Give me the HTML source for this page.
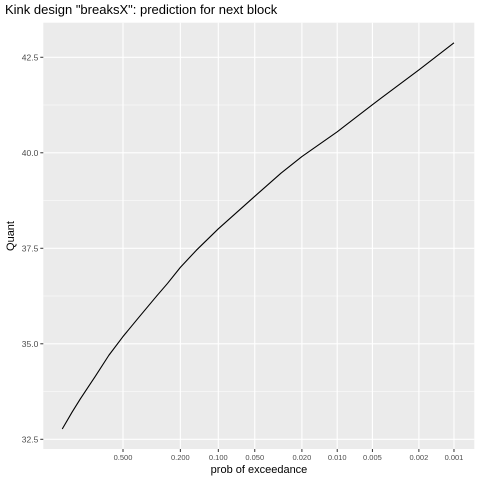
<!DOCTYPE html>
<html><head><meta charset="utf-8"><style>
body{margin:0;background:#fff;font-family:"Liberation Sans",sans-serif}
</style></head><body>
<svg width="480" height="480" xmlns="http://www.w3.org/2000/svg" id="chart">
<rect width="480" height="480" fill="#fff"/>
<text x="5" y="14" font-size="13" fill="#000">Kink design "breaksX": prediction for next block</text>
<rect x="43.3" y="22.7" width="431" height="426.3" fill="#ebebeb"/>
<g id="grid"></g>
<g id="axes"></g>
<path id="line" fill="none" stroke="#000" stroke-width="1.1" stroke-linejoin="round"/>
<text x="259" y="473" font-size="11" text-anchor="middle" fill="#000">prob of exceedance</text>
<text transform="translate(14,236) rotate(-90)" font-size="11" text-anchor="middle" fill="#000">Quant</text>
</svg>
<script>
const probs=[0.9,0.85,0.8,0.7,0.6,0.5,0.4,0.3,0.25,0.2,0.15,0.1,0.05,0.03,0.02,0.01,0.005,0.002,0.001];
const quants=[32.77,33.21,33.56,34.14,34.70,35.19,35.68,36.25,36.58,37.00,37.45,38.01,38.86,39.47,39.90,40.55,41.26,42.17,42.88];
const xTicks=[0.5,0.2,0.1,0.05,0.02,0.01,0.005,0.002,0.001];
const xTickLabels=["0.500","0.200","0.100","0.050","0.020","0.010","0.005","0.002","0.001"];
const yTicks=[32.5,35.0,37.5,40.0,42.5];
const yTickLabels=["32.5","35.0","37.5","40.0","42.5"];
const L=43.3,R=474.3,T=22.7,B=449;
const gx0=-1.2086,gx1=7.309,y0=32.246,y1=43.405;
const g=p=>-Math.log(-Math.log(1-p));
const X=p=>L+(g(p)-gx0)/(gx1-gx0)*(R-L);
const Y=v=>B-(v-y0)/(y1-y0)*(B-T);
const NS="http://www.w3.org/2000/svg";
const grid=document.getElementById('grid'),axes=document.getElementById('axes');
function mk(tag,attrs,parent){const e=document.createElementNS(NS,tag);for(const k in attrs)e.setAttribute(k,attrs[k]);parent.appendChild(e);return e;}
for(let i=0;i<yTicks.length-1;i++){
  const y=Y((yTicks[i]+yTicks[i+1])/2);
  const l=mk('line',{x1:L,x2:R,y1:y,y2:y,stroke:'#fff','stroke-width':0.5},grid);
  
  
}
yTicks.forEach((v,i)=>{
  const y=Y(v);
  const l=mk('line',{x1:L,x2:R,y1:y,y2:y,stroke:'#fff','stroke-width':1.1},grid);
  
  
  const t=mk('line',{x1:L-3,x2:L,y1:y,y2:y,stroke:'#333','stroke-width':1},axes);
  
  
  const tx=mk('text',{x:L-5,y:y+3,'font-size':8.5,'text-anchor':'end',fill:'#4d4d4d'},axes);
  tx.textContent=yTickLabels[i];
  
  
});
xTicks.forEach((p,i)=>{
  const x=X(p);
  const l=mk('line',{x1:x,x2:x,y1:T,y2:B,stroke:'#fff','stroke-width':1.1},grid);
  
  
  const t=mk('line',{x1:x,x2:x,y1:B,y2:B+3,stroke:'#333','stroke-width':1},axes);
  
  
  const tx=mk('text',{x:x,y:B+11,'font-size':7.5,'text-anchor':'middle',fill:'#4d4d4d'},axes);
  tx.textContent=xTickLabels[i];
  
  
});
document.getElementById('line').setAttribute('d',probs.map((p,i)=>(i?'L':'M')+X(p).toFixed(2)+','+Y(quants[i]).toFixed(2)).join(''));
</script>
</body></html>
